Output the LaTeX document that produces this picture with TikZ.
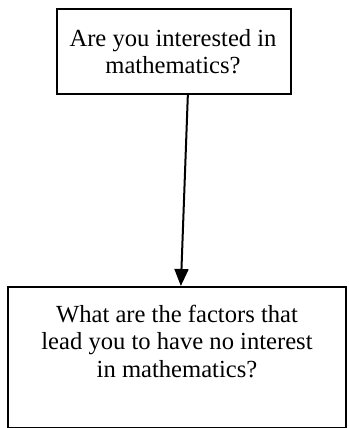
\documentclass[tikz,border=0pt]{standalone}
\usepackage{fontspec}
\setmainfont{Liberation Serif}
\usetikzlibrary{calc,arrows.meta}
\begin{document}
\begin{tikzpicture}[x=1pt,y=-1pt,
  boxstyle/.style={draw=black, line width=1.7pt, rectangle, inner sep=0pt, anchor=north west},
  textstyle/.style={anchor=north, inner sep=0pt, align=center,
    font=\fontsize{24.6}{27.2}\selectfont},
  arrowstyle/.style={line width=2pt, -{Triangle[length=17pt,width=14pt]}}]
\useasboundingbox (0,0) rectangle (348,428);
% top box
\node[boxstyle, minimum width=234pt, minimum height=85pt] (q1) at (56,8) {};
\node[textstyle] (t1) at (173,29.4) {Are you interested in\\mathematics?};
% bottom box
\node[boxstyle, minimum width=338pt, minimum height=141pt] (q2) at (7,286) {};
\draw[gray, line width=1.7pt] (q2.south west) -- (q2.south east);
\node[textstyle] (t2) at (177,305.2) {What are the factors that\\lead you to have no interest\\in mathematics?};
% arrow
\draw[arrowstyle] ($(q1.south)+(14,0)$) -- ($(q2.north)+(4,0)$);
\end{tikzpicture}
\end{document}
